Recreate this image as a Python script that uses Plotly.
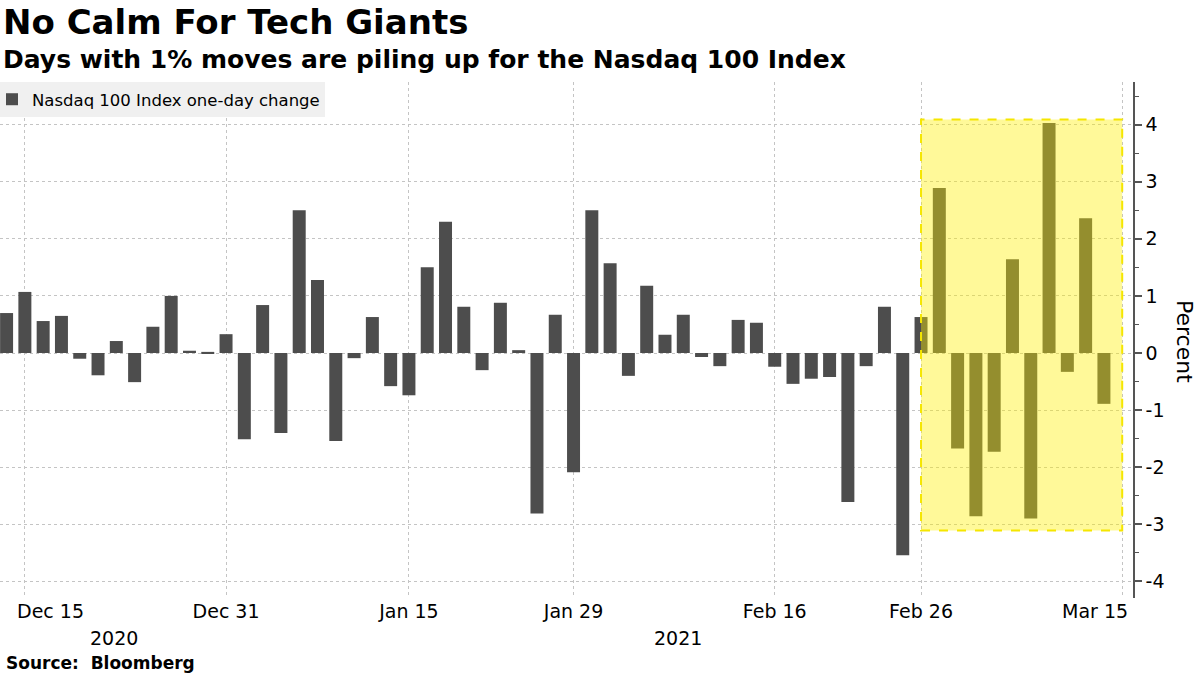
import plotly.graph_objects as go

# ---- data -------------------------------------------------------------
dates = [
    "2020-12-14", "2020-12-15", "2020-12-16", "2020-12-17", "2020-12-18",
    "2020-12-21", "2020-12-22", "2020-12-23", "2020-12-24", "2020-12-28",
    "2020-12-29", "2020-12-30", "2020-12-31",
    "2021-01-04", "2021-01-05", "2021-01-06", "2021-01-07", "2021-01-08",
    "2021-01-11", "2021-01-12", "2021-01-13", "2021-01-14", "2021-01-15",
    "2021-01-19", "2021-01-20", "2021-01-21", "2021-01-22", "2021-01-25",
    "2021-01-26", "2021-01-27", "2021-01-28", "2021-01-29",
    "2021-02-01", "2021-02-02", "2021-02-03", "2021-02-04", "2021-02-05",
    "2021-02-08", "2021-02-09", "2021-02-10", "2021-02-11", "2021-02-12",
    "2021-02-16", "2021-02-17", "2021-02-18", "2021-02-19", "2021-02-22",
    "2021-02-23", "2021-02-24", "2021-02-25", "2021-02-26",
    "2021-03-01", "2021-03-02", "2021-03-03", "2021-03-04", "2021-03-05",
    "2021-03-08", "2021-03-09", "2021-03-10", "2021-03-11", "2021-03-12",
]
values = [
    0.70, 1.07, 0.56, 0.65, -0.10, -0.39, 0.21, -0.51, 0.46, 1.00, 0.04, 0.02, 0.33,
    -1.51, 0.84, -1.40, 2.50, 1.28, -1.54, -0.09, 0.63, -0.58, -0.74,
    1.50, 2.30, 0.81, -0.30, 0.88, 0.05, -2.81, 0.67, -2.09,
    2.50, 1.57, -0.40, 1.18, 0.32, 0.67, -0.07, -0.23, 0.58, 0.53,
    -0.24, -0.54, -0.45, -0.42, -2.61, -0.23, 0.81, -3.54, 0.63,
    2.89, -1.67, -2.86, -1.73, 1.64, -2.90, 4.03, -0.33, 2.36, -0.89,
]
axis_end_date = "2021-03-15"
tick_dates = ["2020-12-15", "2020-12-31", "2021-01-15", "2021-01-29",
              "2021-02-16", "2021-02-26", "2021-03-15"]
tick_labels = ["Dec 15", "Dec 31", "Jan 15", "Jan 29", "Feb 16", "Feb 26", "Mar 15"]
year_labels = ["2020", "2021"]
y_ticks = [-4, -3, -2, -1, 0, 1, 2, 3, 4]
highlight_start = "2021-02-26"
highlight_end = "2021-03-15"
highlight_low, highlight_high = -3.11, 4.09

series_name = "Nasdaq 100 Index one-day change"
title = "No Calm For Tech Giants"
subtitle = "Days with 1% moves are piling up for the Nasdaq 100 Index"
source = "Source:  Bloomberg"

# ---- derived positions (trading-day axis) -----------------------------
calendar = dates + [axis_end_date]
pos = {d: i for i, d in enumerate(calendar)}
x_vals = [pos[d] for d in dates]
tick_pos = [pos[d] for d in tick_dates]

# the two edge labels are nudged inwards (as in the original): they are drawn
# as annotations next to their gridline; the inner labels are axis tick labels
tick_text = [""] + tick_labels[1:-1] + [""]

FONT = "DejaVu Sans"
BAR = "#4d4d4d"
GRID = "#c4c4c4"
AXIS = "#555555"

W, H = 1200, 675
L, R, T, B = 0, 67, 82, 77
plot_w = W - L - R
plot_h = H - T - B

def py(px):
    """container pixel (from top) -> paper y"""
    return (H - B - px) / plot_h

def pxx(px):
    """container pixel (from left) -> paper x"""
    return (px - L) / plot_w

fig = go.Figure()
fig.add_trace(go.Bar(
    x=x_vals, y=values, name=series_name,
    marker=dict(color=BAR, line=dict(width=0)),
    showlegend=True,
    hovertext=dates, hovertemplate="%{hovertext}: %{y:.2f}%<extra></extra>",
))

fig.add_shape(
    type="rect", xref="x", yref="y",
    x0=pos[highlight_start], x1=pos[highlight_end],
    y0=highlight_low, y1=highlight_high,
    fillcolor="rgba(255,240,0,0.4)",
    line=dict(color="#f5e600", width=2, dash="dash"),
    layer="above",
)

tick_font = dict(family=FONT, size=19, color="#000")
annotations = [
    dict(text=f"<b>{title}</b>", x=pxx(1), y=py(22), xref="paper", yref="paper",
         xanchor="left", yanchor="middle", showarrow=False,
         font=dict(family=FONT, size=34, color="#000")),
    dict(text=f"<b>{subtitle}</b>", x=pxx(1), y=py(60), xref="paper", yref="paper",
         xanchor="left", yanchor="middle", showarrow=False,
         font=dict(family=FONT, size=25, color="#000")),
    dict(text=f"<b>{source}</b>", x=pxx(4), y=py(663), xref="paper", yref="paper",
         xanchor="left", yanchor="middle", showarrow=False,
         font=dict(family=FONT, size=17, color="#000")),
    dict(text="Percent", x=pxx(1185), y=py(342), xref="paper", yref="paper",
         textangle=90, xanchor="center", yanchor="middle", showarrow=False,
         font=dict(family=FONT, size=22, color="#000")),
    # edge tick labels
    dict(text=tick_labels[0], x=tick_pos[0], xshift=-10, y=py(611), xref="x", yref="paper",
         xanchor="left", yanchor="middle", showarrow=False, font=tick_font),
    dict(text=tick_labels[-1], x=tick_pos[-1], xshift=8, y=py(611), xref="x", yref="paper",
         xanchor="right", yanchor="middle", showarrow=False, font=tick_font),
]
year_x = [5.9, 36.7]
for lab, xv in zip(year_labels, year_x):
    annotations.append(dict(text=lab, x=xv, y=py(638), xref="x", yref="paper",
                            xanchor="center", yanchor="middle", showarrow=False,
                            font=tick_font))

fig.update_layout(
    width=W, height=H,
    margin=dict(l=L, r=R, t=T, b=B, autoexpand=False),
    paper_bgcolor="white", plot_bgcolor="white",
    bargap=0.29,
    font=dict(family=FONT, color="#000"),
    showlegend=True,
    legend=dict(x=pxx(-8), y=1.0, xanchor="left", yanchor="top",
                bgcolor="#f0f0f0", borderwidth=0,
                font=dict(family=FONT, size=16.5, color="#000"),
                itemwidth=30, tracegroupgap=0),
    xaxis=dict(
        range=[-0.36, len(calendar) - 1 + 0.59],
        tickmode="array", tickvals=tick_pos, ticktext=tick_text,
        showgrid=True, gridcolor=GRID, griddash="dot", gridwidth=1,
        zeroline=False, showline=False, ticks="",
        ticklabeloverflow="allow",
        tickfont=tick_font,
    ),
    yaxis=dict(
        side="right", range=[-4.29, 4.746],
        tickmode="array", tickvals=y_ticks, ticktext=[str(v) for v in y_ticks],
        showgrid=True, gridcolor=GRID, griddash="dot", gridwidth=1,
        zeroline=False, showline=True, linecolor=AXIS, linewidth=1.5,
        ticks="outside", ticklen=7, tickwidth=2, tickcolor=AXIS,
        minor=dict(dtick=0.5, tick0=0, ticks="outside", ticklen=4,
                   tickcolor=AXIS, tickwidth=1, showgrid=False),
        ticklabeloverflow="allow",
        tickfont=tick_font,
    ),
    annotations=annotations,
)

fig.write_html("out.html",
               config={"displayModeBar": False},
               post_script="document.body.style.margin='0';"
                           "document.body.style.overflow='hidden';")
